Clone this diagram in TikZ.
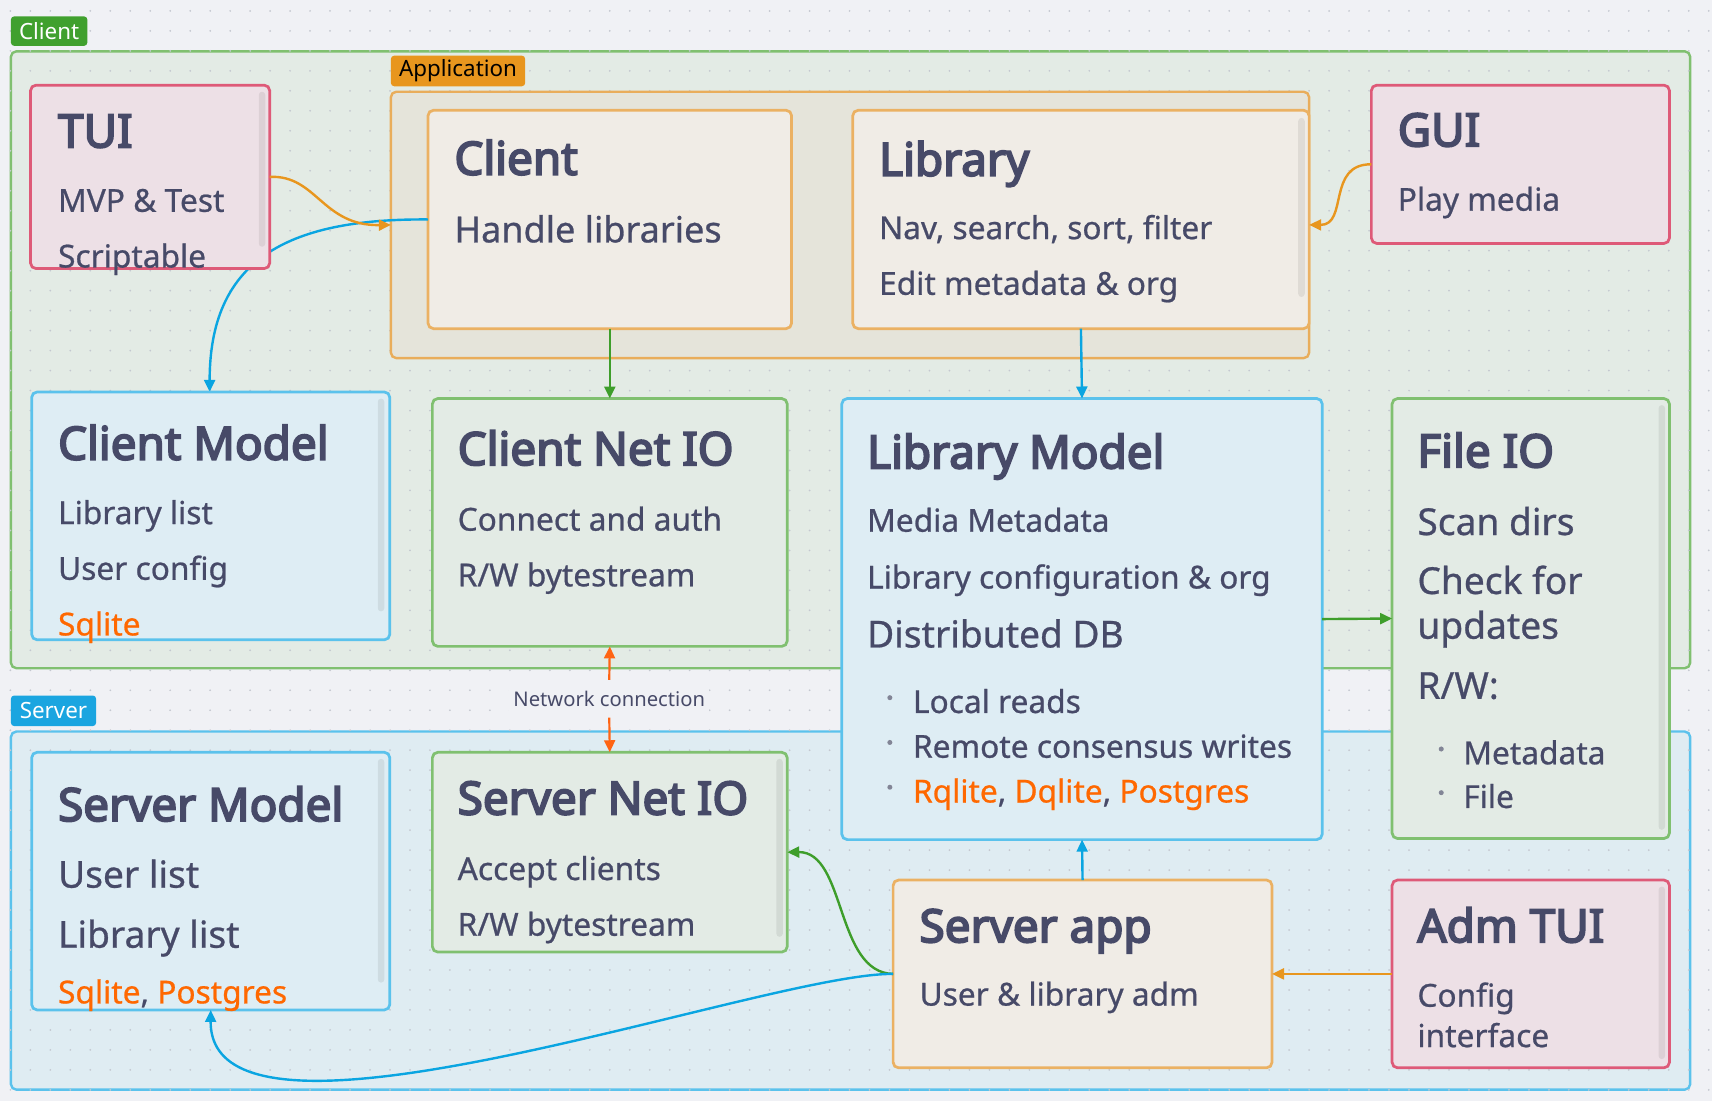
\documentclass[tikz,border=0pt]{standalone}
\usepackage{fontspec}
\setmainfont{Noto Sans}
\newfontfamily\titlefam{Noto Sans}[FakeBold=4]
\newfontfamily\bodyfam{Noto Sans}[FakeBold=0.7]
\usetikzlibrary{arrows.meta}
\definecolor{page}{RGB}{240,241,245}
\definecolor{dotc}{RGB}{196,200,208}
\definecolor{ink}{RGB}{71,74,104}
\definecolor{orangeT}{RGB}{255,104,0}
\definecolor{cgreenfill}{RGB}{227,235,229}
\definecolor{cgreenline}{RGB}{128,192,112}
\definecolor{cgreenlabel}{RGB}{64,160,46}
\definecolor{sbluefill}{RGB}{223,236,242}
\definecolor{sblueline}{RGB}{91,194,236}
\definecolor{sbluelabel}{RGB}{26,165,224}
\definecolor{appfill}{RGB}{229,228,218}
\definecolor{appline}{RGB}{233,173,91}
\definecolor{applabel}{RGB}{232,150,30}
\definecolor{obfill}{RGB}{240,236,230}
\definecolor{obline}{RGB}{235,177,99}
\definecolor{pfill}{RGB}{237,224,230}
\definecolor{pline}{RGB}{222,90,120}
\definecolor{bfill}{RGB}{222,237,244}
\definecolor{bline}{RGB}{91,194,236}
\definecolor{arrOrange}{RGB}{232,150,30}
\definecolor{arrBlue}{RGB}{10,165,225}
\definecolor{arrGreen}{RGB}{62,158,43}
\definecolor{arrNet}{RGB}{255,100,20}
\definecolor{bulletc}{RGB}{130,133,150}
\newcommand\tfont{\titlefam\fontsize{42}{42}\selectfont}
\newcommand\bfont{\bodyfam\fontsize{29}{29}\selectfont}
\newcommand\hfont{\bodyfam\fontsize{34}{34}\selectfont}
\begin{document}
\begin{tikzpicture}[x=1pt,y=-1pt,
  boxbase/.style={anchor=north west, inner sep=0pt, outer sep=0pt, line width=2.5pt, rounded corners=5pt},
  container/.style={boxbase, line width=2.2pt},
  pinkbox/.style={boxbase, draw=pline, fill=pfill},
  bluebox/.style={boxbase, draw=bline, fill=bfill},
  greenbox/.style={boxbase, draw=cgreenline, fill=cgreenfill},
  orangebox/.style={boxbase, draw=obline, fill=obfill},
  grouplabel/.style={anchor=north west, inner sep=0pt, outer sep=0pt, rounded corners=3pt, font=\fontsize{20.5}{20.5}\selectfont},
  tt/.style={anchor=base west, inner sep=0pt, text=ink, font=\tfont},
  bt/.style={anchor=base west, inner sep=0pt, text=ink, font=\bfont},
  ht/.style={anchor=base west, inner sep=0pt, text=ink, font=\hfont},
  scroll/.style={fill=black, fill opacity=0.07, rounded corners=3pt},
  conn/.style={line width=2.2pt, -{Triangle[length=11pt,width=10pt]}},
  bul/.style={fill=bulletc}
]
\useasboundingbox (0,0) rectangle (1568,1008);
\fill[page] (0,0) rectangle (1568,1008);
% containers
\node[container, draw=cgreenline, fill=cgreenfill, minimum width=1538pt, minimum height=565pt] (clientC) at (10,47) {};
\node[container, draw=sblueline, fill=sbluefill, minimum width=1538pt, minimum height=328pt] (serverC) at (10,670) {};
% dot grid
\foreach \i in {0,...,85}{
  \foreach \j in {0,...,54}{
    \fill[dotc] (9.5+18.3*\i, 10+18.3*\j) circle (0.9pt);
  }
}
\node[container, draw=appline, fill=appfill, minimum width=841pt, minimum height=244pt] (appC) at (358,84) {};
% group labels
\node[grouplabel, fill=cgreenlabel, text=white, minimum width=70pt, minimum height=27pt] (clientL) at (10,15) {Client};
\node[grouplabel, fill=applabel, text=black, minimum width=123pt, minimum height=28pt] (appL) at (358,51) {Application};
\node[grouplabel, fill=sbluelabel, text=white, minimum width=78pt, minimum height=28pt] (serverL) at (10,637) {Server};
% boxes
\node[orangebox, minimum width=333pt, minimum height=200pt] (client) at (392,101) {};
% connector hidden behind TUI
\draw[conn, arrBlue] (client.west) .. controls (260,200) and (192,240) .. (192,359);
\node[pinkbox, minimum width=219pt, minimum height=168pt] (tui) at (28,78) {};
\node[orangebox, minimum width=418pt, minimum height=200pt] (library) at (781,101) {};
\node[pinkbox, minimum width=273pt, minimum height=145pt] (gui) at (1256,78) {};
\node[bluebox, minimum width=328pt, minimum height=227pt] (cmodel) at (29,359) {};
\node[greenbox, minimum width=325pt, minimum height=227pt] (cnet) at (396,365) {};
\node[bluebox, minimum width=440pt, minimum height=404pt] (lmodel) at (771,365) {};
\node[greenbox, minimum width=254pt, minimum height=403pt] (fileio) at (1275,365) {};
\node[bluebox, minimum width=328pt, minimum height=236pt] (smodel) at (29,689) {};
\node[greenbox, minimum width=325pt, minimum height=183pt] (snet) at (396,689) {};
\node[orangebox, minimum width=347pt, minimum height=172pt] (sapp) at (818,806) {};
\node[pinkbox, minimum width=254pt, minimum height=172pt] (adm) at (1275,806) {};
% scrollbars
\fill[scroll] (237,84) rectangle (243,226);
\fill[scroll] (1189,108) rectangle (1195,272);
\fill[scroll] (346,365) rectangle (352,560);
\fill[scroll] (346,695) rectangle (352,900);
\fill[scroll] (711,695) rectangle (717,858);
\fill[scroll] (1519,371) rectangle (1525,760);
\fill[scroll] (1519,812) rectangle (1525,970);
% texts
\node[tt] (tuiT) at (53,135) {TUI};
\node[bt] (tui1) at (53,194) {MVP \& Test};
\node[bt] (tui2) at (53,245) {Scriptable};
\node[tt] (clientT) at (416,160) {Client};
\node[ht, font=\bodyfam\fontsize{33}{33}\selectfont] (client1) at (416,222) {Handle libraries};
\node[tt] (libraryT) at (805,161) {Library};
\node[bt] (library1) at (805,219) {Nav, search, sort, filter};
\node[bt] (library2) at (805,270) {Edit metadata \& org};
\node[tt] (guiT) at (1280,134) {GUI};
\node[bt] (gui1) at (1280,193) {Play media};
\node[tt] (cmodelT) at (53,421) {Client Model};
\node[bt] (cmodel1) at (53,480) {Library list};
\node[bt] (cmodel2) at (53,531) {User config};
\node[bt, text=orangeT] (cmodel3) at (53,582) {Sqlite};
\node[tt] (cnetT) at (419,426) {Client Net IO};
\node[bt] (cnet1) at (419,486) {Connect and auth};
\node[bt] (cnet2) at (419,537) {R/W bytestream};
\node[tt] (lmodelT) at (794,429) {Library Model};
\node[bt] (lmodel1) at (794,487) {Media Metadata};
\node[bt] (lmodel2) at (794,539) {Library configuration \& org};
\node[ht] (lmodel3) at (794,593) {Distributed DB};
\fill[bul] (815,639) circle (2.3pt);
\fill[bul] (815,680) circle (2.3pt);
\fill[bul] (815,721) circle (2.3pt);
\node[bt] (lmodel4) at (836,653) {Local reads};
\node[bt] (lmodel5) at (836,694) {Remote consensus writes};
\node[bt] (lmodel6) at (836,735) {{\color{orangeT}Rqlite}, {\color{orangeT}Dqlite}, {\color{orangeT}Postgres}};
\node[tt] (fileioT) at (1298,428) {File IO};
\node[ht] (fileio1) at (1298,490) {Scan dirs};
\node[ht] (fileio2) at (1298,544) {Check for};
\node[ht] (fileio3) at (1298,585) {updates};
\node[ht] (fileio4) at (1298,640) {R/W:};
\fill[bul] (1320,686) circle (2.3pt);
\fill[bul] (1320,726) circle (2.3pt);
\node[bt] (fileio5) at (1340,700) {Metadata};
\node[bt] (fileio6) at (1340,740) {File};
\node[tt] (smodelT) at (53,752) {Server Model};
\node[ht] (smodel1) at (53,813) {User list};
\node[ht] (smodel2) at (53,868) {Library list};
\node[bt] (smodel3) at (53,919) {{\color{orangeT}Sqlite}, {\color{orangeT}Postgres}};
\node[tt] (snetT) at (419,746) {Server Net IO};
\node[bt] (snet1) at (419,806) {Accept clients};
\node[bt] (snet2) at (419,857) {R/W bytestream};
\node[tt] (sappT) at (842,863) {Server app};
\node[bt] (sapp1) at (842,921) {User \& library adm};
\node[tt] (admT) at (1298,863) {Adm TUI};
\node[bt] (adm1) at (1298,922) {Config};
\node[bt] (adm2) at (1298,959) {interface};
% connectors
\draw[conn, arrOrange] (tui.east) .. controls (290,160) and (295,207) .. (appC.west);
\draw[conn, arrOrange] (gui.west) .. controls (1215,150) and (1235,206) .. ([yshift=-5pt]library.east);
\draw[conn, arrGreen] (client.south) -- (cnet.north);
\draw[conn, arrBlue] (library.south) -- (lmodel.north);
\draw[conn, arrGreen] (lmodel.east) -- (fileio.east -| fileio.west);
\node[fill=page, inner xsep=4pt, inner ysep=10pt, text=ink, font=\fontsize{18.5}{18.5}\selectfont] (netlabel) at (558,640) {Network connection};
\draw[conn, arrNet, line width=2pt] (netlabel.north) -- (cnet.south);
\draw[conn, arrNet, line width=2pt] (netlabel.south) -- (snet.north);
\draw[conn, arrBlue] (sapp.north) -- (lmodel.south);
\draw[conn, arrGreen] (sapp.west) .. controls (765,891) and (775,780) .. (snet.east);
\draw[conn, arrBlue] (sapp.west) .. controls (700,891) and (192,1080) .. (smodel.south);
\draw[conn, arrOrange] (adm.west) -- (sapp.east);
\end{tikzpicture}
\end{document}
